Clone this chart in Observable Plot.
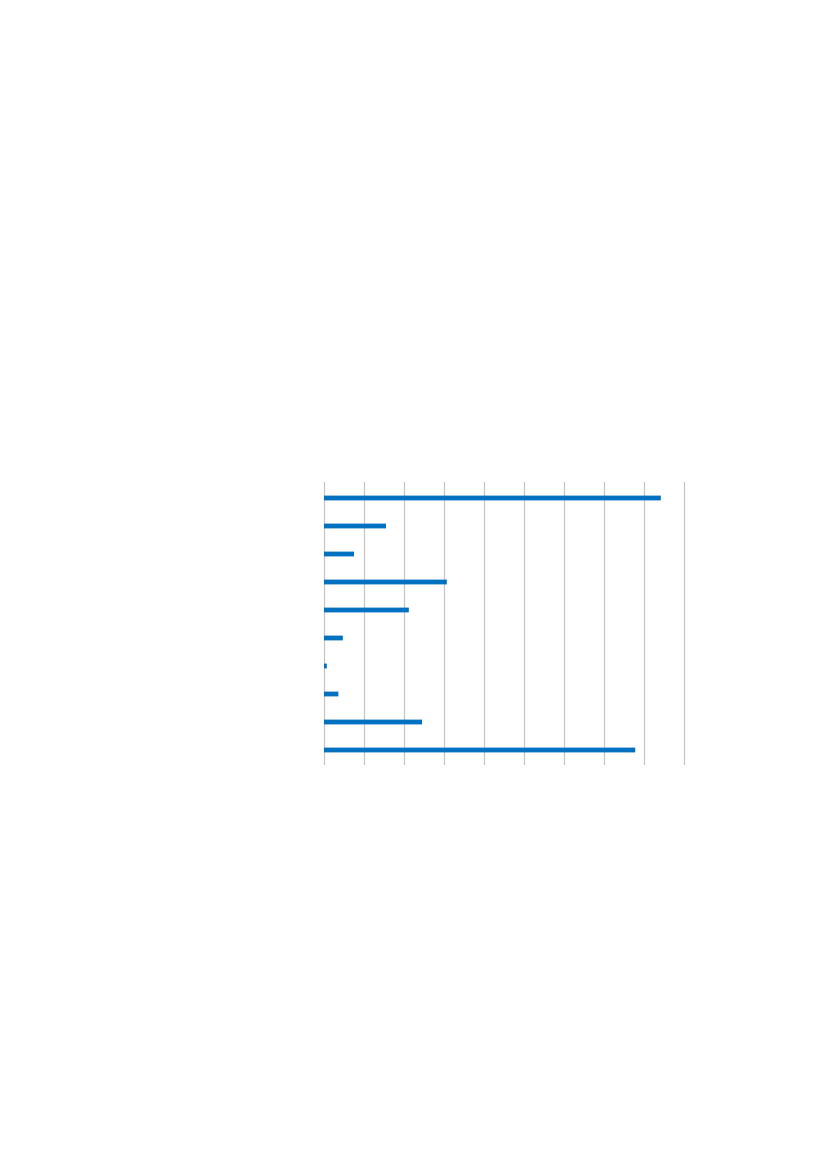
<!DOCTYPE html>
<html>
<head>
<meta charset="utf-8">
<script src="https://cdn.jsdelivr.net/npm/d3@7"></script>
<script src="https://cdn.jsdelivr.net/npm/@observablehq/plot@0.6"></script>
<style>
  html, body { margin: 0; padding: 0; background: #fff; overflow: hidden; }
  #chart svg { display: block; }
</style>
</head>
<body>
<div id="chart"></div>
<script>
const categories = ["1", "2", "3", "4", "5", "6", "7", "8", "9", "10"];
const values = [8.42, 1.55, 0.75, 3.07, 2.12, 0.47, 0.07, 0.36, 2.45, 7.78];
const gridTicks = [0, 1, 2, 3, 4, 5, 6, 7, 8, 9];

const data = categories.map((c, i) => ({category: c, value: values[i]}));

const chart = Plot.plot({
  width: 827,
  height: 1169,
  marginLeft: 324,
  marginRight: 143,
  marginTop: 482,
  marginBottom: 404,
  x: {domain: [0, 9], axis: null},
  y: {domain: categories, axis: null, padding: 0},
  style: {background: "#fff"},
  marks: [
    Plot.ruleX(gridTicks, {stroke: "#c3c3c3", strokeWidth: 1.2}),
    Plot.barX(data, {x: "value", y: "category", fill: "#0070C0", insetTop: 11.6, insetBottom: 11.6})
  ]
});
document.getElementById("chart").appendChild(chart);
</script>
</body>
</html>
